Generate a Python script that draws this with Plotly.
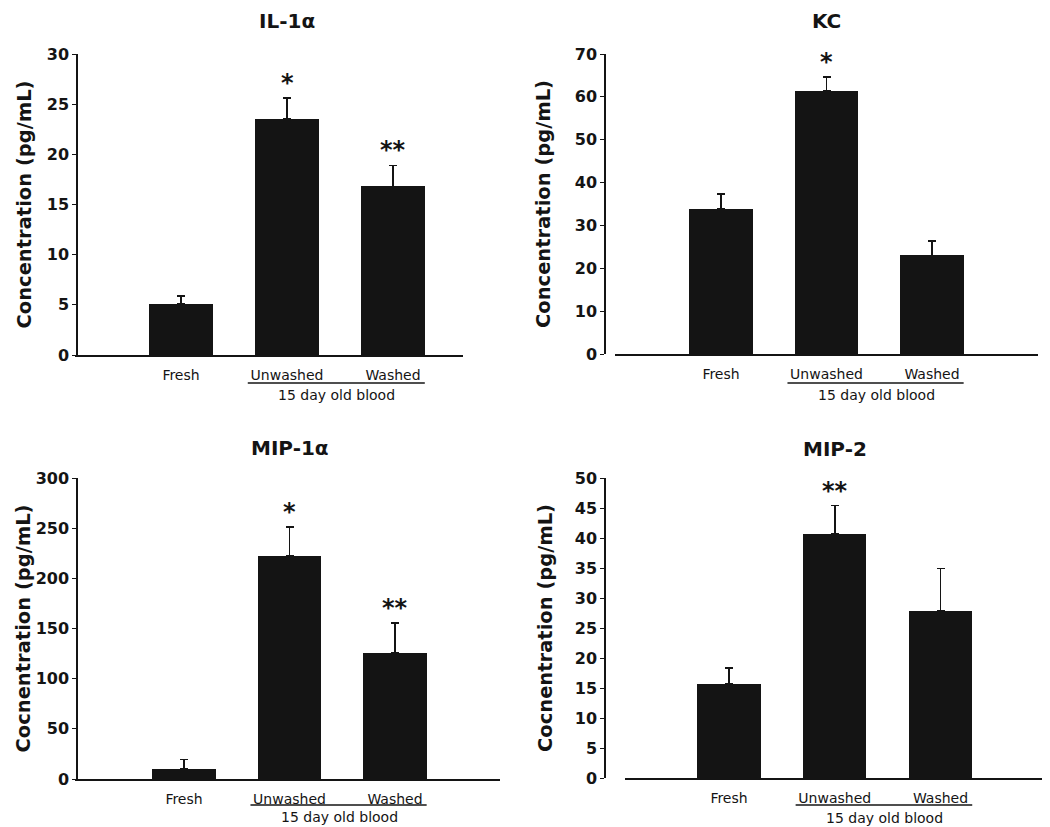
import plotly.graph_objects as go

# ---------------- data ----------------
categories = ["Fresh", "Unwashed", "Washed"]
group_label = "15 day old blood"

titles = ["IL-1α", "KC", "MIP-1α", "MIP-2"]
y_titles = ["Concentration (pg/mL)", "Concentration (pg/mL)",
            "Cocnentration (pg/mL)", "Cocnentration (pg/mL)"]

il1a_mean = [5.1, 23.5, 16.8]
il1a_err = [0.8, 2.1, 2.1]
kc_mean = [33.8, 61.4, 23.0]
kc_err = [3.5, 3.2, 3.4]
mip1a_mean = [10.3, 222.0, 125.4]
mip1a_err = [9.3, 29.0, 30.0]
mip2_mean = [15.7, 40.7, 27.8]
mip2_err = [2.6, 4.7, 7.1]

il1a_sig = ["", "*", "**"]
kc_sig = ["", "*", ""]
mip1a_sig = ["", "*", "**"]
mip2_sig = ["", "**", ""]

y_max = [30, 70, 300, 50]
y_step = [5, 10, 50, 5]

means = [il1a_mean, kc_mean, mip1a_mean, mip2_mean]
errs = [il1a_err, kc_err, mip1a_err, mip2_err]
sigs = [il1a_sig, kc_sig, mip1a_sig, mip2_sig]

# ---------------- layout geometry ----------------
# page pixel positions; the page body has an 8px margin, so the figure is
# shifted by OFF and sized to fit the window.
OFF = 8
W, H = 1050 - OFF, 827 - OFF
panels = [
    dict(ax=77, bl=75, br=463, top=54, bot=355, c1=181, sp=106, ytdx=-53, tdy=33, gdy=-40, ldy=-28),
    dict(ax=605, bl=615, br=1038, top=54, bot=354, c1=721, sp=105.5, ytdx=-62, tdy=33, gdy=-41, ldy=-29),
    dict(ax=77, bl=75, br=500, top=478, bot=779, c1=184, sp=105.5, ytdx=-54, tdy=30, gdy=-38, ldy=-26),
    dict(ax=605, bl=625, br=1042, top=478, bot=778, c1=729, sp=105.75, ytdx=-60, tdy=29, gdy=-40, ldy=-27),
]


def fx(px):
    return (px - OFF) / W


def fy(py):
    return 1 - (py - OFF) / H


INK = "#141414"
TICK_FONT = dict(family="DejaVu Sans", size=16, color=INK, weight="bold")
CAT_FONT = dict(family="DejaVu Sans", size=14, color=INK)

fig = go.Figure()
annotations = []
shapes = []
xpos = [1, 2, 3]

for i, p in enumerate(panels):
    n = "" if i == 0 else str(i + 1)
    xa, ya = "x" + n, "y" + n
    xr0 = 1 + (p["bl"] - p["c1"]) / p["sp"]
    xr1 = 1 + (p["br"] - p["c1"]) / p["sp"]

    fig.add_trace(go.Bar(
        x=xpos, y=means[i], width=0.6,
        marker=dict(color=INK, line=dict(width=0)),
        error_y=dict(type="data", symmetric=False, array=errs[i],
                     arrayminus=[0] * 3, color=INK, thickness=1.6, width=4),
        xaxis=xa, yaxis=ya, showlegend=False, hoverinfo="skip",
    ))

    fig.update_layout(**{
        ("xaxis" + n): dict(
            domain=[fx(p["bl"]), fx(p["br"])], range=[xr0, xr1], anchor=ya,
            tickvals=xpos, ticktext=categories, ticks="outside", ticklen=6,
            tickcolor="rgba(0,0,0,0)", tickfont=CAT_FONT,
            showline=True, linecolor=INK, linewidth=1.6, automargin=False,
            showgrid=False, zeroline=False, fixedrange=True,
        ),
        ("yaxis" + n): dict(
            domain=[fy(p["bot"]), fy(p["top"])], range=[0, y_max[i]],
            anchor="free", position=fx(p["ax"]), dtick=y_step[i], tick0=0,
            ticks="outside", ticklen=4, tickwidth=1.3, tickcolor=INK,
            tickfont=TICK_FONT, showline=True, linecolor=INK, linewidth=1.5,
            showgrid=False, zeroline=False, fixedrange=True, automargin=False,
        ),
    })

    annotations.append(dict(
        text="<b>%s</b>" % titles[i], x=2, xref=xa, y=1, yref=ya + " domain",
        yanchor="middle", yshift=p["tdy"], showarrow=False,
        font=dict(family="DejaVu Sans", size=20, color=INK),
    ))
    annotations.append(dict(
        text="<b>%s</b>" % y_titles[i], x=fx(p["ax"]), xref="paper", xshift=p["ytdx"],
        y=0.5, yref=ya + " domain", textangle=-90, showarrow=False,
        xanchor="center", yanchor="middle",
        font=dict(family="DejaVu Sans", size=19.5, color=INK),
    ))
    annotations.append(dict(
        text=group_label, x=2.47, xref=xa, y=0, yref=ya + " domain",
        yanchor="middle", yshift=p["gdy"], showarrow=False, font=CAT_FONT,
    ))
    for k in range(3):
        if sigs[i][k]:
            annotations.append(dict(
                text="<b>%s</b>" % sigs[i][k], x=xpos[k], xref=xa,
                y=means[i][k] + errs[i][k], yref=ya, yanchor="middle",
                yshift=15, showarrow=False,
                font=dict(family="DejaVu Sans", size=24, color=INK),
            ))
    u0 = (1.63 - xr0) / (xr1 - xr0)
    u1 = (3.30 - xr0) / (xr1 - xr0)
    shapes.append(dict(
        type="line", xref=xa + " domain", x0=u0, x1=u1,
        yref=ya + " domain", ysizemode="pixel", yanchor=0,
        y0=p["ldy"], y1=p["ldy"], line=dict(color=INK, width=1.5),
    ))

fig.update_layout(
    width=W, height=H, margin=dict(l=0, r=0, t=0, b=0, pad=0, autoexpand=False),
    paper_bgcolor="white", plot_bgcolor="white",
    annotations=annotations, shapes=shapes, bargap=0,
    font=dict(family="DejaVu Sans", color=INK),
)

fig.write_html("out.html")
